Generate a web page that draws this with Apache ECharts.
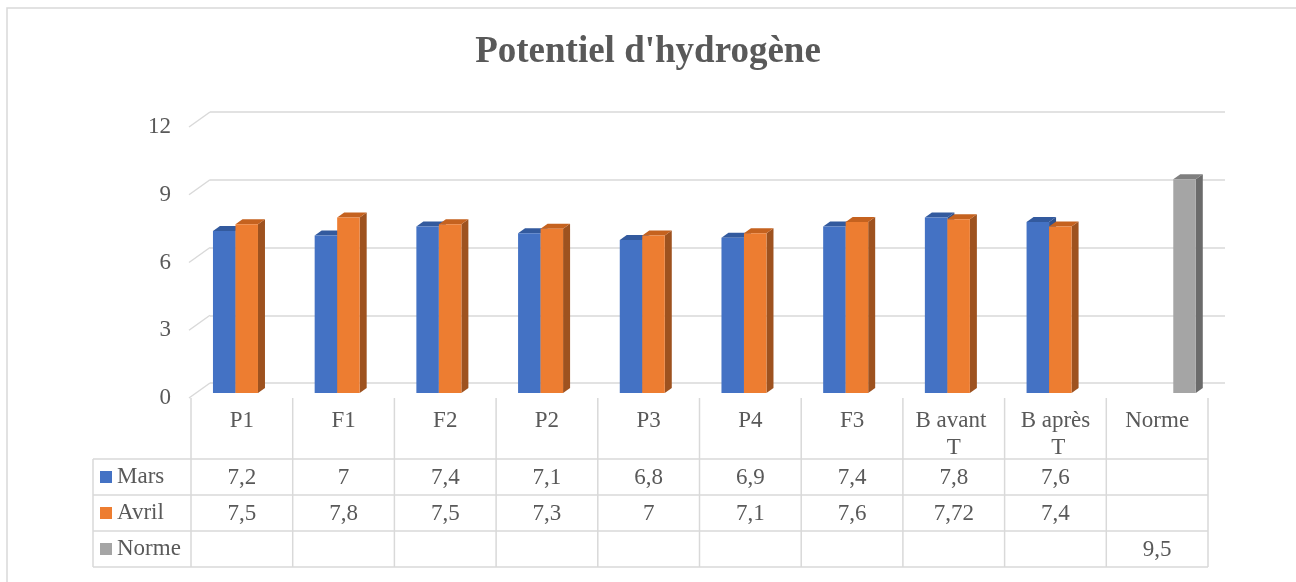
<!DOCTYPE html>
<html>
<head>
<meta charset="utf-8">
<title>Potentiel d'hydrogène</title>
<script src="https://cdn.jsdelivr.net/npm/echarts@6/dist/echarts.min.js"></script>
</head>
<body style="margin:0;background:#fff;">
<div id="main" style="width:1296px;height:582px;"></div>
<script>
var categories = ['P1', 'F1', 'F2', 'P2', 'P3', 'P4', 'F3', 'B avant T', 'B après T', 'Norme'];
var mars = [7.2, 7, 7.4, 7.1, 6.8, 6.9, 7.4, 7.8, 7.6, null];
var avril = [7.5, 7.8, 7.5, 7.3, 7, 7.1, 7.6, 7.72, 7.4, null];
var norme = [null, null, null, null, null, null, null, null, null, 9.5];
var yTicks = [0, 3, 6, 9, 12];

var seriesList = [
    {name: 'Mars', data: mars, front: '#4472c4', side: '#2f528f', top: '#335a9e'},
    {name: 'Avril', data: avril, front: '#ed7d31', side: '#9e521f', top: '#c5621f'},
    {name: 'Norme', data: norme, front: '#a5a5a5', side: '#6b6b6b', top: '#7f7f7f'}
];

var textColor = '#595959';
var lineColor = '#d9d9d9';
var font = '"Liberation Serif", "Times New Roman", serif';

// 3D-ish column: front face, right side and top
function makeRender(s, col) {
    return function (params, api) {
        var idx = api.value(0);
        var v = api.value(1);
        var bw = api.size([1, 0])[0];
        var base = api.coord([idx, 0]);
        var top = api.coord([idx, v]);
        var w = bw * 0.2213;
        var x0 = base[0] - bw / 2 + bw * 0.216 + s * w;
        var y0 = base[1], y1 = top[1];
        var dx = 7, dy = 5;
        return {
            type: 'group',
            children: [
                {type: 'polygon', shape: {points: [[x0 + w, y1], [x0 + w + dx, y1 - dy], [x0 + w + dx, y0 - dy], [x0 + w, y0]]}, style: {fill: col.side}},
                {type: 'polygon', shape: {points: [[x0, y1], [x0 + dx, y1 - dy], [x0 + w + dx, y1 - dy], [x0 + w, y1]]}, style: {fill: col.top}},
                {type: 'rect', shape: {x: x0, y: y1, width: w, height: y0 - y1}, style: {fill: col.front}}
            ]
        };
    };
}

var series = [];
// slanted left ends of the gridlines (back wall -> front)
series.push({
    type: 'custom',
    xAxisIndex: 1,
    yAxisIndex: 1,
    silent: true,
    data: yTicks.map(function (t) { return [0, t]; }),
    renderItem: function (params, api) {
        var p = api.coord([0, api.value(1)]);
        return {type: 'line', shape: {x1: p[0] - 21, y1: p[1] + 15, x2: p[0], y2: p[1]}, style: {stroke: lineColor, lineWidth: 1.5}};
    }
});
seriesList.forEach(function (col, s) {
    var d = [];
    col.data.forEach(function (v, i) { if (v != null) d.push([i, v]); });
    series.push({
        type: 'custom',
        name: col.name,
        xAxisIndex: 0,
        yAxisIndex: 0,
        data: d,
        encode: {x: 0, y: 1},
        renderItem: makeRender(s, col)
    });
});

var myChart = echarts.init(document.getElementById('main'));
myChart.setOption({
    backgroundColor: '#fff',
    animation: false,
    title: {
        text: "Potentiel d'hydrogène",
        left: 'center',
        top: 29,
        textStyle: {fontFamily: font, fontSize: 37, fontWeight: 'bold', color: textColor}
    },
    grid: [
        {left: 191, right: 88, top: 123, bottom: 189},   // bars
        {left: 210, right: 71, top: 112, bottom: 199},   // back wall
        {left: 189, right: 88, top: 127, bottom: 184}    // y labels
    ],
    xAxis: [
        {type: 'category', gridIndex: 0, data: categories, show: false},
        {type: 'value', gridIndex: 1, min: 0, max: 1, show: false},
        {type: 'value', gridIndex: 2, min: 0, max: 1, show: false}
    ],
    yAxis: [
        {type: 'value', gridIndex: 0, min: 0, max: 12, interval: 3, show: false},
        {type: 'value', gridIndex: 1, min: 0, max: 12, interval: 3,
            axisLine: {show: false}, axisTick: {show: false}, axisLabel: {show: false},
            splitLine: {lineStyle: {color: lineColor, width: 1.5}}},
        {type: 'value', gridIndex: 2, min: 0, max: 12, interval: 3,
            axisLine: {show: false}, axisTick: {show: false}, splitLine: {show: false},
            axisLabel: {margin: 18, fontFamily: font, fontSize: 23, color: textColor}}
    ],
    series: series
});

// data table under the plot
function fmt(v) { return v == null ? '' : String(v).replace('.', ','); }

var c0 = myChart.convertToPixel({xAxisIndex: 0}, 0);
var c1 = myChart.convertToPixel({xAxisIndex: 0}, 1);
var bw = c1 - c0;
var xLeft = c0 - bw / 2;
var xRight = xLeft + bw * categories.length;
var tableTop = 398, headBottom = 459, rowH = 36, legendLeft = 93;
var tableBottom = headBottom + rowH * seriesList.length;
var ls = {stroke: lineColor, lineWidth: 1.5};
var g = [];

g.push({type: 'rect', shape: {x: 7, y: 8, width: 1320, height: 620}, style: {fill: null, stroke: lineColor, lineWidth: 1.5}, silent: true});

for (var k = 0; k <= categories.length; k++) {
    var x = xLeft + bw * k;
    g.push({type: 'line', shape: {x1: x, y1: tableTop, x2: x, y2: tableBottom}, style: ls});
}
g.push({type: 'line', shape: {x1: legendLeft, y1: headBottom, x2: legendLeft, y2: tableBottom}, style: ls});
for (var r = 0; r <= seriesList.length; r++) {
    var y = headBottom + rowH * r;
    g.push({type: 'line', shape: {x1: legendLeft, y1: y, x2: xRight, y2: y}, style: ls});
}

categories.forEach(function (c, i) {
    g.push({type: 'text', x: xLeft + bw * (i + 0.5), y: 407,
        style: {text: c, width: 86, overflow: 'break', align: 'center', verticalAlign: 'top',
            lineHeight: 27, font: '23px ' + font, fill: textColor}});
});

seriesList.forEach(function (col, s) {
    var yc = headBottom + rowH * (s + 0.5);
    g.push({type: 'rect', shape: {x: 100, y: yc - 6, width: 12, height: 12}, style: {fill: col.front}});
    g.push({type: 'text', x: 117, y: yc, style: {text: col.name, align: 'left', verticalAlign: 'middle', font: '23px ' + font, fill: textColor}});
    col.data.forEach(function (v, i) {
        g.push({type: 'text', x: xLeft + bw * (i + 0.5), y: yc + 1,
            style: {text: fmt(v), align: 'center', verticalAlign: 'middle', font: '23px ' + font, fill: textColor}});
    });
});

myChart.setOption({graphic: g});
</script>
</body>
</html>
